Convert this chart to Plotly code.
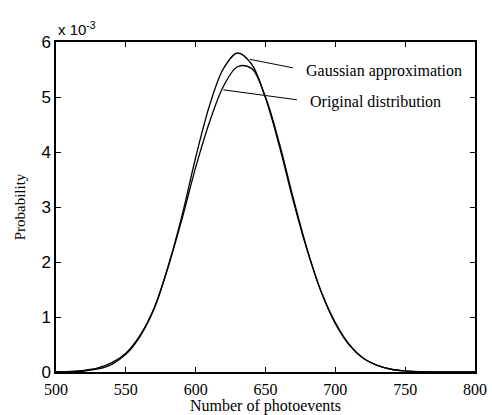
import plotly.graph_objects as go

# Number of photoevents
x_vals = [500, 510, 520, 530, 540, 550, 560, 570, 580, 590, 600, 610, 620, 630, 640,
          650, 660, 670, 680, 690, 700, 710, 720, 730, 740, 750, 760, 770, 780, 790, 800]
# Probability (units of 1e-3)
gauss_e3 = [0.0, 0.01, 0.03, 0.075, 0.17, 0.34, 0.66, 1.15, 1.9, 2.82, 3.9, 4.85, 5.52, 5.8, 5.6,
            4.98, 4.1, 3.1, 2.2, 1.45, 0.9, 0.5, 0.25, 0.12, 0.05, 0.02, 0.006, 0.002, 0.0, 0.0, 0.0]
orig_e3 = [0.0, 0.004, 0.018, 0.055, 0.14, 0.32, 0.64, 1.13, 1.88, 2.76, 3.72, 4.55, 5.2, 5.55, 5.52,
           5.0, 4.15, 3.15, 2.22, 1.45, 0.88, 0.49, 0.25, 0.12, 0.05, 0.02, 0.006, 0.002, 0.0, 0.0, 0.0]

x_ticks = [500, 550, 600, 650, 700, 750, 800]
y_ticks = [0, 1, 2, 3, 4, 5, 6]

serif = "Liberation Serif"
sans = "Liberation Sans"

fig = go.Figure()
fig.add_trace(go.Scatter(x=x_vals, y=gauss_e3, mode="lines", line=dict(color="black", width=1.3, shape="spline"),
                         name="Gaussian approximation", showlegend=False))
fig.add_trace(go.Scatter(x=x_vals, y=orig_e3, mode="lines", line=dict(color="black", width=1.3, shape="spline"),
                         name="Original distribution", showlegend=False))

# leader lines
fig.add_shape(type="line", x0=638.9, y0=5.685, x1=669.6, y1=5.53, xref="x", yref="y",
              line=dict(color="black", width=1))
fig.add_shape(type="line", x0=619.8, y0=5.13, x1=672.5, y1=4.95, xref="x", yref="y",
              line=dict(color="black", width=1))

fig.add_annotation(x=677.5, y=5.48, text="Gaussian approximation", showarrow=False, xanchor="left",
                   yanchor="middle", font=dict(family=serif, size=16, color="black"))
fig.add_annotation(x=680.4, y=4.91, text="Original distribution", showarrow=False, xanchor="left",
                   yanchor="middle", font=dict(family=serif, size=16, color="black"))
fig.add_annotation(x=0, y=1, xref="paper", yref="paper", text="x 10<sup>-3</sup>", showarrow=False,
                   xanchor="left", yanchor="bottom", yshift=2, font=dict(family=sans, size=15, color="black"))

fig.update_layout(
    width=492, height=415,
    margin=dict(l=56, r=17, t=42, b=43),
    paper_bgcolor="white", plot_bgcolor="white",
)
fig.update_xaxes(range=[500, 800], tickvals=x_ticks, ticks="inside", ticklen=5, tickcolor="black",
                 showline=True, linecolor="black", linewidth=1.5, mirror="ticks", showgrid=False, zeroline=False,
                 automargin=False,
                 tickfont=dict(family=serif, size=16, color="black"), ticklabelstandoff=2,
                 title=dict(text="Number of photoevents", font=dict(family=serif, size=16, color="black"), standoff=0))
fig.update_yaxes(range=[0, 6], tickvals=y_ticks, ticks="inside", ticklen=5, tickcolor="black",
                 showline=True, linecolor="black", linewidth=1.5, mirror="ticks", showgrid=False, zeroline=False,
                 automargin=False,
                 tickfont=dict(family=sans, size=17, color="black"),
                 title=dict(text="Probability", font=dict(family=serif, size=15, color="black"), standoff=12))

fig.write_html("out.html")
